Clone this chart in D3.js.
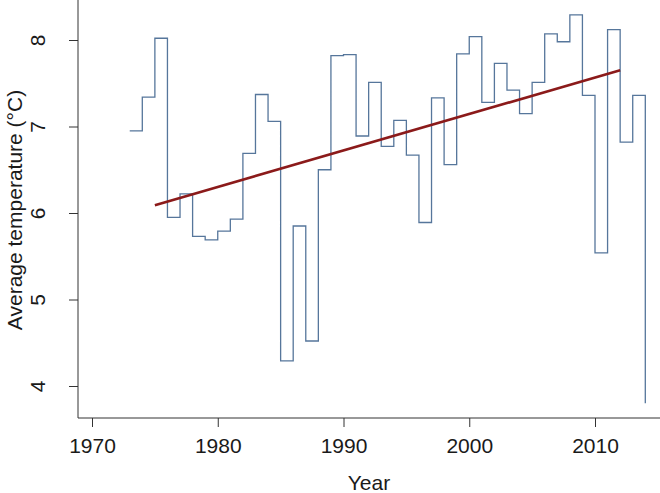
<!DOCTYPE html>
<html>
<head>
<meta charset="utf-8">
<script src="https://cdn.jsdelivr.net/npm/d3@7"></script>
<style>
  body { margin: 0; background: #fff; }
  svg text { font-family: "Liberation Sans", Arial, sans-serif; fill: #1a1a1a; }
</style>
</head>
<body>
<div id="chart"></div>
<script>
// yearly average temperature (step plot, R type = "s")
const years = [1973, 1974, 1975, 1976, 1977, 1978, 1979, 1980, 1981, 1982, 1983, 1984,
  1985, 1986, 1987, 1988, 1989, 1990, 1991, 1992, 1993, 1994, 1995, 1996, 1997, 1998,
  1999, 2000, 2001, 2002, 2003, 2004, 2005, 2006, 2007, 2008, 2009, 2010, 2011, 2012,
  2013, 2014];
const temps = [6.95, 7.34, 8.02, 5.95, 6.22, 5.73, 5.69, 5.79, 5.93, 6.69, 7.37, 7.06,
  4.29, 5.85, 4.52, 6.50, 7.82, 7.83, 6.89, 7.51, 6.77, 7.07, 6.67, 5.89, 7.33, 6.56,
  7.84, 8.04, 7.28, 7.73, 7.42, 7.15, 7.51, 8.07, 7.98, 8.29, 7.36, 5.54, 8.12, 6.82,
  7.36, 3.80];

// fitted trend line end points
const trendYears = [1975, 2012];
const trendTemps = [6.09, 7.65];

const xTicks = [1970, 1980, 1990, 2000, 2010];
const yTicks = [4, 5, 6, 7, 8];

////////////////////////////////////////////////////////////////////////////////////

const width = 660;
const height = 493;
const fontSize = "21px";

const svg = d3.select("#chart").append("svg")
  .attr("width", width)
  .attr("height", height);

const x = d3.scaleLinear().domain([1970, 2010]).range([92, 595]);
const y = d3.scaleLinear().domain([4, 8]).range([386, 40]);

const axisLeft = 78;
const axisBottom = 418;

// L-shaped box
svg.append("path")
  .attr("d", `M${axisLeft},0V${axisBottom}H${width}`)
  .attr("fill", "none")
  .attr("stroke", "#333")
  .attr("stroke-width", 1);

const gx = svg.append("g")
  .attr("transform", `translate(0,${axisBottom})`)
  .call(d3.axisBottom(x).tickValues(xTicks).tickFormat(d3.format("d")).tickSize(9).tickSizeOuter(0));
gx.select(".domain").remove();
gx.selectAll("line").attr("stroke", "#333");
gx.selectAll("text")
  .attr("y", 35)
  .attr("dy", null)
  .style("font-size", fontSize)
  .style("font-family", "'Liberation Sans', Arial, sans-serif")
  .attr("fill", "#1a1a1a");

const gy = svg.append("g")
  .attr("transform", `translate(${axisLeft},0)`)
  .call(d3.axisLeft(y).tickValues(yTicks).tickFormat(d3.format("d")).tickSize(9).tickSizeOuter(0));
gy.select(".domain").remove();
gy.selectAll("line").attr("stroke", "#333");
gy.selectAll("text")
  .attr("x", null)
  .attr("dy", null)
  .attr("text-anchor", "middle")
  .attr("transform", "translate(-33,0) rotate(-90)")
  .style("font-size", fontSize)
  .style("font-family", "'Liberation Sans', Arial, sans-serif")
  .attr("fill", "#1a1a1a");

svg.append("text")
  .attr("x", 369)
  .attr("y", 490)
  .attr("text-anchor", "middle")
  .style("font-size", fontSize)
  .text("Year");

svg.append("text")
  .attr("transform", "translate(22,210) rotate(-90)")
  .attr("text-anchor", "middle")
  .style("font-size", fontSize)
  .text("Average temperature (°C)");

////////////////////////////////////////////////////////////////////////////////////

const stepLine = d3.line()
  .x((d, i) => x(years[i]))
  .y((d) => y(d))
  .curve(d3.curveStepAfter);

svg.append("path")
  .datum(temps)
  .attr("d", stepLine)
  .attr("fill", "none")
  .attr("stroke", "#56769b")
  .attr("stroke-width", 1.3);

const trendLine = d3.line()
  .x((d, i) => x(trendYears[i]))
  .y((d) => y(d));

svg.append("path")
  .datum(trendTemps)
  .attr("d", trendLine)
  .attr("fill", "none")
  .attr("stroke", "#8b1a1a")
  .attr("stroke-width", 2.6);
</script>
</body>
</html>
